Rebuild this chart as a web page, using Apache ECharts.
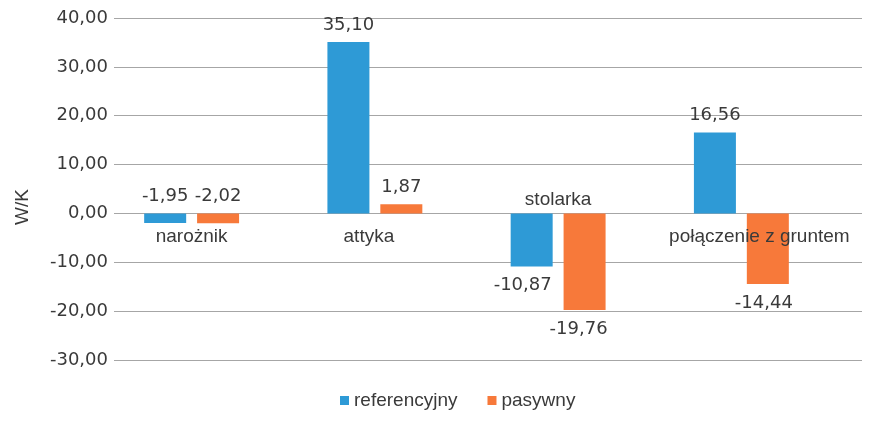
<!DOCTYPE html>
<html>
<head>
<meta charset="utf-8">
<script src="https://cdn.jsdelivr.net/npm/echarts@6/dist/echarts.min.js"></script>
<style>
  html, body { margin: 0; padding: 0; background: #fff; }
  #chart { width: 874px; height: 422px; }
</style>
</head>
<body>
<div id="chart"></div>
<script>
// data
var categories = ['narożnik', 'attyka', 'stolarka', 'połączenie z gruntem'];
var referencyjny = [-1.95, 35.10, -10.87, 16.56];
var pasywny = [-2.02, 1.87, -19.76, -14.44];
var yTicks = { min: -30, max: 40, interval: 10 };
// which category names sit above the zero line
var nameAbove = [false, false, true, false];

// small horizontal nudges seen in the original (style only)
var nameShift = [0, -6, 0, 18];
var refShift = [0, 0, -9, 0];
var pasShift = [0, 0, -6, -4];

var font = 'Liberation Sans, Arial, sans-serif';
var numFont = 'DejaVu Sans, sans-serif';
var textColor = '#3a3a3a';

function fmt(v) {
    return v.toFixed(2).replace('.', ',');
}

// negative bars: small ones keep the label above, the rest go under the bar
function valueLabel(v, dx) {
    var pos = (v >= 0 || v > -5) ? 'top' : 'bottom';
    return { show: true, position: pos, distance: pos === 'top' ? 8 : 10, offset: [dx, 0] };
}

var chartDom = document.getElementById('chart');
var myChart = echarts.init(chartDom);

var option = {
    animation: false,
    textStyle: { fontFamily: font },
    legend: {
        bottom: 7,
        left: 335,
        itemWidth: 9,
        itemHeight: 9,
        itemGap: 30,
        icon: 'rect',
        textStyle: { fontSize: 19, color: textColor, fontFamily: font },
        data: ['referencyjny', 'pasywny']
    },
    grid: [
        { left: 114, right: 12, top: 18, bottom: 62 },
        { left: 100, right: 41, top: 18, bottom: 62 }
    ],
    xAxis: [
        { type: 'category', gridIndex: 0, data: categories, show: false },
        {
            type: 'category', gridIndex: 1, data: categories,
            axisLine: { show: false }, axisTick: { show: false }, axisLabel: { show: false }
        }
    ],
    yAxis: [
        {
            type: 'value', gridIndex: 0,
            min: yTicks.min, max: yTicks.max, interval: yTicks.interval,
            name: 'W/K',
            nameLocation: 'middle',
            nameGap: 82,
            nameRotate: 90,
            nameTextStyle: { fontSize: 19, color: textColor, fontFamily: font, padding: [0, 36, 0, 0] },
            axisLine: { show: false },
            axisTick: { show: false },
            axisLabel: {
                fontSize: 18, color: textColor, margin: 6, fontFamily: numFont,
                formatter: function (v) { return fmt(v); }
            },
            splitLine: { lineStyle: { color: '#a6a6a6', width: 1 } }
        },
        {
            type: 'value', gridIndex: 1,
            min: yTicks.min, max: yTicks.max, interval: yTicks.interval,
            show: false, splitLine: { show: false }
        }
    ],
    series: [
        {
            name: 'referencyjny',
            type: 'bar',
            xAxisIndex: 1, yAxisIndex: 1,
            barWidth: 42,
            barGap: '26%',
            itemStyle: { color: '#2E9AD6' },
            label: { fontSize: 18, color: textColor, fontFamily: numFont, formatter: function (p) { return fmt(p.value); } },
            data: referencyjny.map(function (v, i) { return { value: v, label: valueLabel(v, refShift[i]) }; })
        },
        {
            name: 'pasywny',
            type: 'bar',
            xAxisIndex: 1, yAxisIndex: 1,
            barWidth: 42,
            barGap: '26%',
            itemStyle: { color: '#F7793A' },
            label: { fontSize: 18, color: textColor, fontFamily: numFont, formatter: function (p) { return fmt(p.value); } },
            data: pasywny.map(function (v, i) { return { value: v, label: valueLabel(v, pasShift[i]) }; })
        },
        {
            // category names placed at the zero line
            type: 'scatter',
            xAxisIndex: 1, yAxisIndex: 1,
            symbolSize: 0,
            z: 10,
            silent: true,
            itemStyle: { opacity: 1 },
            data: categories.map(function (c, i) {
                return {
                    value: [c, 0],
                    label: {
                        show: true,
                        position: nameAbove[i] ? 'top' : 'bottom',
                        distance: nameAbove[i] ? 4 : 14,
                        offset: [nameShift[i], 0],
                        formatter: c,
                        fontSize: 19,
                        fontFamily: font,
                        color: textColor,
                        opacity: 1
                    }
                };
            })
        }
    ]
};

option && myChart.setOption(option);
</script>
</body>
</html>
